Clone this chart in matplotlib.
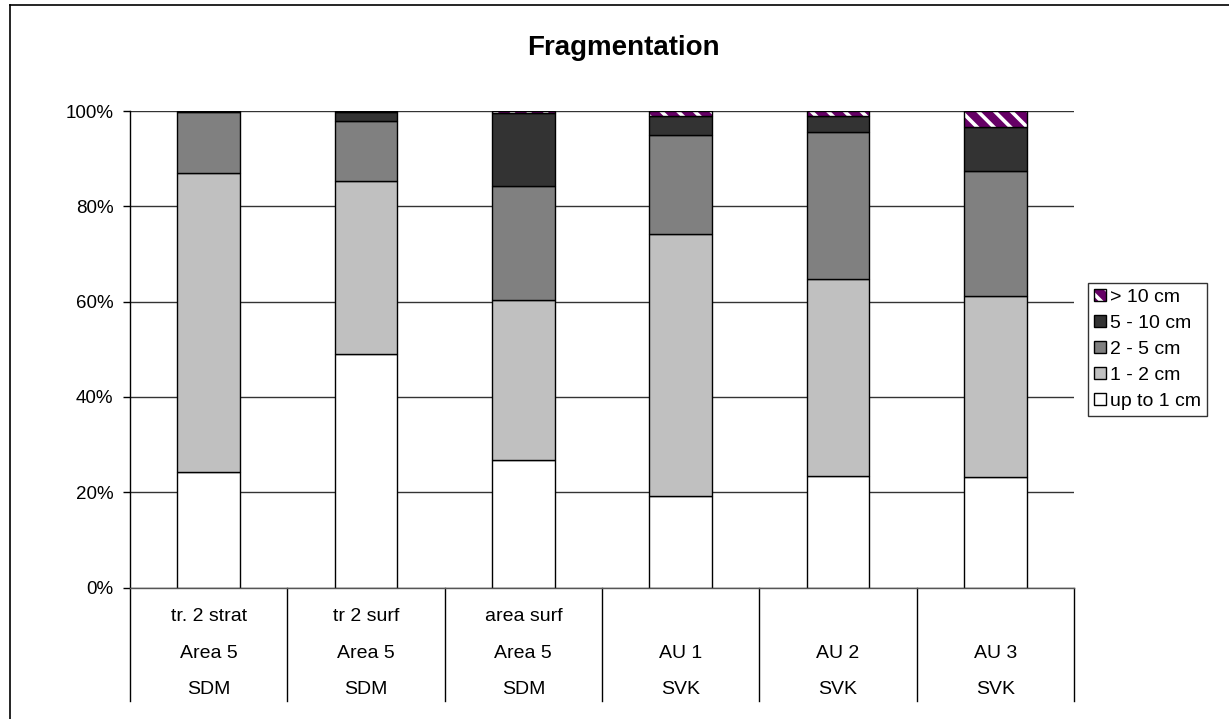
import matplotlib as mpl
mpl.use('Agg')
import matplotlib.pyplot as plt
from matplotlib.patches import Patch
from matplotlib.lines import Line2D
from matplotlib.legend_handler import HandlerTuple

plt.rcParams['font.family'] = ['Liberation Sans', 'DejaVu Sans']
plt.rcParams['hatch.linewidth'] = 2.6

# category labels, three rows under each bar
row1 = ['tr. 2 strat', 'tr 2 surf', 'area surf', '', '', '']
row2 = ['Area 5', 'Area 5', 'Area 5', 'AU 1', 'AU 2', 'AU 3']
row3 = ['SDM', 'SDM', 'SDM', 'SVK', 'SVK', 'SVK']

# share of each size class (%)
up_to_1 = [24.2, 49.0, 26.7, 19.1, 23.4, 23.1]
cm_1_2 = [62.8, 36.4, 33.6, 55.0, 41.3, 38.1]
cm_2_5 = [12.8, 12.5, 23.9, 20.9, 30.8, 26.3]
cm_5_10 = [0.2, 1.8, 15.4, 4.0, 3.5, 9.1]
over_10 = [0.0, 0.3, 0.4, 1.0, 1.0, 3.4]

W, H = 1229, 719
fig = plt.figure(figsize=(W / 100, H / 100), dpi=100)
ax = fig.add_axes([130 / W, 1 - 587.5 / H, 944 / W, 476.5 / H])

x = [i + 0.5 for i in range(len(row3))]
bw = 0.4
bottom = [0.0] * len(x)
for vals, col in [(up_to_1, 'white'), (cm_1_2, '#c0c0c0'),
                  (cm_2_5, '#808080'), (cm_5_10, '#333333')]:
    ax.bar(x, vals, bw, bottom=bottom, color=col, edgecolor='black',
           linewidth=1.0, zorder=3)
    bottom = [b + v for b, v in zip(bottom, vals)]
# purple hatched top segment
ax.bar(x, over_10, bw, bottom=bottom, facecolor='#660066', edgecolor='white',
       hatch='\\\\', linewidth=0, zorder=3)
ax.bar(x, over_10, bw, bottom=bottom, facecolor='none', edgecolor='black',
       linewidth=1.0, zorder=4)

ax.set_xlim(0, 6)
ax.set_ylim(0, 100)
ax.set_yticks([0, 20, 40, 60, 80, 100])
ax.set_yticklabels(['0%', '20%', '40%', '60%', '80%', '100%'], fontsize=13.5)
ax.yaxis.grid(True, color='#333333', linewidth=1.0, zorder=0)
ax.tick_params(axis='y', length=5, width=1.0, direction='out', pad=7)
ax.set_xticks([])
for s in ['top', 'right', 'bottom']:
    ax.spines[s].set_visible(False)
ax.spines['left'].set_linewidth(1.0)
ax.spines['left'].set_bounds(-113 * 100 / 476.5, 100)

# category table below the axis
px = 100 / 476.5
ax.plot([0, 6], [0, 0], color='#555555', lw=1.0, clip_on=False, zorder=5)
for i in range(1, 7):
    ax.plot([i, i], [0, -113 * px], color='black', lw=1.0, clip_on=False)
for i in range(6):
    ax.text(x[i], -29 * px, row1[i], ha='center', va='center', fontsize=14)
    ax.text(x[i], -65.5 * px, row2[i], ha='center', va='center', fontsize=14)
    ax.text(x[i], -101.5 * px, row3[i], ha='center', va='center', fontsize=14)

fig.text(623 / W, 1 - 48 / H, 'Fragmentation', ha='center', va='center',
         fontsize=20, fontweight='bold')

# legend
h_over = (Patch(facecolor='#660066', edgecolor='white', hatch='\\\\', lw=0),
          Patch(facecolor='none', edgecolor='black', lw=1.0))
handles = [h_over,
           Patch(facecolor='#333333', edgecolor='black', lw=1.0),
           Patch(facecolor='#808080', edgecolor='black', lw=1.0),
           Patch(facecolor='#c0c0c0', edgecolor='black', lw=1.0),
           Patch(facecolor='white', edgecolor='black', lw=1.0)]
labels = ['> 10 cm', '5 - 10 cm', '2 - 5 cm', '1 - 2 cm', 'up to 1 cm']
leg = fig.legend(handles, labels, loc='upper left',
                 bbox_to_anchor=(1088 / W, 1 - 283 / H), fontsize=14,
                 frameon=True, fancybox=False, edgecolor='black',
                 handlelength=0.6, handleheight=0.6, handletextpad=0.25,
                 labelspacing=0.46, borderpad=0.3, borderaxespad=0,
                 handler_map={tuple: HandlerTuple(ndivide=1, pad=0)})
leg.get_frame().set_linewidth(1.0)

# outer chart frame
fig.add_artist(Line2D([10 / W, 10 / W], [0, 1 - 5 / H], color='black', lw=1.2))
fig.add_artist(Line2D([10 / W, 1], [1 - 5 / H, 1 - 5 / H], color='black', lw=1.2))

plt.savefig('out.png', dpi=100)
plt.close(fig)
